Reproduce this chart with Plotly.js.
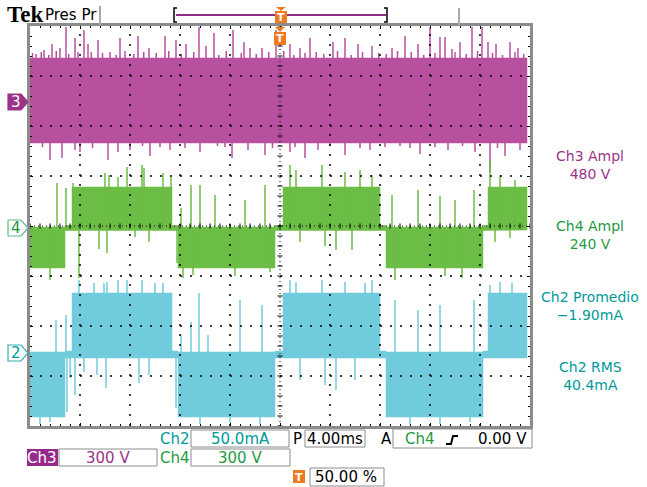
<!DOCTYPE html>
<html><head><meta charset="utf-8">
<script src="https://cdn.plot.ly/plotly-3.0.1.min.js"></script>
<style>html,body{margin:0;padding:0;background:#fff}#chart{width:647px;height:487px}</style>
</head><body><div id="chart"></div>
<script>
// ---------- DATA (time in ms, Ch3/Ch4 in V, Ch2 in mA) ----------
const ch3SegStart = [-20];
const ch3SegEnd   = [19.76];
const ch3SegHi    = [264];
const ch3SegLo    = [-246];
const ch3SpikeT = [-19.52,-18.88,-18.24,-17.6,-17.12,-16.4,-16.16,-15.68,-15.36,-14.56,-13.6,-12.8,-11.36,-10.48,-9.2,-8.32,-7.52,-6.48,-5.92,-5.28,-3.76,-2.88,-2.4,-1.44,-0.32,0.8,1.6,2.4,4.24,5.2,6.24,7.36,8.96,10.0,11.04,12.0,12.8,13.2,13.76,14.4,15.36,16.16,16.64,17.28,18.4,19.04,
  -19.8,-19.1,-18.5,-17.9,-16.9,-15.1,-14.2,-13.1,-12.4,-11.7,-10.9,-9.9,-8.9,-7.9,-6.9,-4.9,-4.3,-3.1,-1.9,-0.9,0.3,1.1,2.0,2.9,3.5,4.6,5.7,6.6,7.9,8.5,9.4,10.5,11.5,12.4,14.0,14.9,15.8,17.0,17.8,18.8,19.5,
  -18.4,-17.44,-16.4,-16.0,-13.76,-12.96,-12.0,-10.4,-8.8,-6.4,-3.84,-2.56,-1.2,0.8,2.0,3.04,5.2,7.2,11.2,13.44,15.6,16.8,18.0,19.2,
  -19.0,-15.0,-11.0,-9.6,-7.6,-5.0,-4.4,-0.6,1.2,4.0,6.4,8.4,9.6,10.4,12.4,14.6,17.4];
const ch3SpikeV = [288,312,348,324,450,384,300,432,348,372,300,384,396,324,396,372,348,450,336,414,432,360,324,324,432,348,324,384,360,384,348,336,324,396,348,450,390,390,318,360,450,450,360,348,360,324,
  294,300,282,306,288,300,294,282,306,288,300,294,306,288,300,282,306,294,288,300,306,282,294,300,288,306,282,300,294,288,306,300,282,294,300,288,306,294,282,300,288,
  -348,-336,-288,-300,-348,-300,-288,-324,-288,-300,-336,-288,-318,-300,-336,-288,-318,-288,-312,-288,-300,-420,-324,-288,
  -270,-276,-264,-270,-276,-264,-270,-276,-270,-264,-276,-270,-264,-276,-270,-264,-276];

const ch4SegStart = [-20,-17.2,-16.64,-8.64,-8.16,-0.4,0.24,8.0,8.48,16.24,16.64];
const ch4SegEnd   = [-17.2,-16.64,-8.64,-8.16,-0.4,0.24,8.0,8.48,16.24,16.64,19.76];
const ch4SegHi    = [6,15,246,15,6,15,246,15,6,15,246];
const ch4SegLo    = [-240,-15,-12,-15,-240,-15,-12,-15,-240,-15,-12];
const ch4SpikeT = [-17.84,-17.12,-16.56,-14.0,-13.68,-12.96,-12.24,-11.04,-10.88,-9.36,-8.72,-7.92,-7.12,-6.4,-5.2,-2.8,-1.2,0.8,1.28,3.36,5.2,6.4,7.36,8.96,11.04,12.8,14.0,15.52,16.8,17.6,18.8,
  -18.4,-16.08,-14.48,-13.84,-11.6,-10.48,-8.24,-7.76,-6.96,-3.6,-0.8,1.6,3.6,4.48,5.76,9.2,13.2,14.56,17.2,18.4];
const ch4SpikeV = [270,240,270,330,318,306,366,378,360,330,306,120,258,258,198,168,258,378,348,378,336,348,318,198,228,192,168,228,408,318,288,
  -312,-300,-126,-150,-54,-84,-210,-300,-282,-288,-264,-84,-108,-132,-132,-312,-288,-300,-84,-60];

const ch2SegStart = [-20,-17.2,-16.64,-8.64,-8.16,-0.4,0.24,8.0,8.48,16.24,16.64];
const ch2SegEnd   = [-17.2,-16.64,-8.64,-8.16,-0.4,0.24,8.0,8.48,16.24,16.64,19.76];
const ch2SegHi    = [1,2,60,2,1,2,60,2,1,2,60];
const ch2SegLo    = [-64,-5,-5,-5,-64,-5,-5,-5,-64,-5,-5];
const ch2SpikeT = [-17.92,-17.12,-16.08,-14.88,-14.08,-13.84,-12.96,-12.24,-11.04,-10.0,-9.36,-7.92,-7.12,-6.48,-5.76,-3.2,-1.44,0.8,1.28,3.36,5.2,6.8,7.36,9.2,11.04,12.8,15.52,16.8,17.6,18.56,
  -17.04,-16.8,-16.4,-15.68,-14.64,-13.92,-11.28,-10.48,-8.32,1.6,3.6,4.48,6.0,-19.2,-18.4,-6.4,-4.0,-1.6,10.4,12.8,15.2];
const ch2SpikeV = [33,38,73,70,70,71,73,73,73,70,70,18,31,60,18,53,48,73,71,73,71,70,73,53,43,48,53,68,71,70,
  -59,-25,-42,-19,-22,-35,-30,-22,-55,-27,-32,-37,-27,-71,-69,-71,-70,-71,-71,-71,-69];

const measLabels = ["Ch3 Ampl","Ch4 Ampl","Ch2 Promedio","Ch2 RMS"];
const measValues = ["480 V","240 V","\u22121.90mA","40.4mA"];
const ch2ScaleText = "50.0mA";
const ch3ScaleText = "300 V";
const ch4ScaleText = "300 V";
const timebaseText = "4.00ms";
const trigLevelText = "0.00 V";
const trigPosText = "50.00 %";

// ---------- STYLE ----------
const C3 = "#b7509f", C4 = "#6cbd45", C2 = "#70cbdc";
const T3 = "#9c338a", T4 = "#1f9a45", T2 = "#009b9b", ORG = "#f07a22", GREY = "#8c8c8c";
const FONT = "DejaVu Sans";

function bandPoly(s, e, hi, lo) {
  const x = [], y = [];
  for (let i = 0; i < s.length; i++) { x.push(s[i], e[i]); y.push(hi[i], hi[i]); }
  for (let i = s.length - 1; i >= 0; i--) { x.push(e[i], s[i]); y.push(lo[i], lo[i]); }
  return {x, y};
}
function spikeLines(ts, vs) {
  const x = [], y = [];
  ts.forEach((t, i) => { x.push(t, t, null); y.push(0, vs[i], null); });
  return {x, y};
}
function band(s,e,hi,lo,axis,color){
  const p = bandPoly(s,e,hi,lo);
  return {type:'scatter', mode:'lines', x:p.x, y:p.y, yaxis:axis, fill:'toself', fillcolor:color,
    line:{color:color, width:0.5}, hoverinfo:'skip', showlegend:false};
}
function spk(ts,vs,axis,color){
  const p = spikeLines(ts,vs);
  return {type:'scatter', mode:'lines', x:p.x, y:p.y, yaxis:axis, line:{color:color, width:1.5},
    hoverinfo:'skip', showlegend:false, connectgaps:false};
}

const traces = [
  band(ch3SegStart,ch3SegEnd,ch3SegHi,ch3SegLo,'y2',C3), spk(ch3SpikeT,ch3SpikeV,'y2',C3),
  band(ch4SegStart,ch4SegEnd,ch4SegHi,ch4SegLo,'y3',C4), spk(ch4SpikeT,ch4SpikeV,'y3',C4),
  band(ch2SegStart,ch2SegEnd,ch2SegHi,ch2SegLo,'y4',C2), spk(ch2SpikeT,ch2SpikeV,'y4',C2)
];

// pixel -> paper helpers (plot area 30..530 x 26..426)
const P = x => (x - 30) / 500;
const Q = y => (426 - y) / 400;

const shapes = [];
for (let i = -16; i <= 16; i += 4) {
  if (i === 0) continue;
  shapes.push({type:'line', xref:'x', yref:'y', x0:i, x1:i, y0:-4, y1:4, layer:'above', line:{color:'#000', width:1.5, dash:'2px,8px'}});
}
for (let j = -3; j <= 3; j++) {
  if (j === 0) continue;
  shapes.push({type:'line', xref:'x', yref:'y', x0:-20, x1:20, y0:j, y1:j, layer:'above', line:{color:'#000', width:1.5, dash:'2px,8px'}});
}
shapes.push({type:'line', xref:'x', yref:'y', x0:-20, x1:20, y0:0, y1:0, layer:'above', line:{color:'#000', width:1, dash:'1px,3px'}});
shapes.push({type:'line', xref:'x', yref:'y', x0:0, x1:0, y0:-4, y1:4, layer:'above', line:{color:'#000', width:1, dash:'1px,3px'}});
for (let k = -25; k <= 25; k++) {
  const t = k * 0.8;
  shapes.push({type:'line', xref:'x', yref:'y', x0:t, x1:t, y0:-0.05, y1:0.05, layer:'above', line:{color:'#000', width:1}});
}
for (let k = -20; k <= 20; k++) {
  const v = k * 0.2;
  shapes.push({type:'line', xref:'x', yref:'y', x0:-0.2, x1:0.2, y0:v, y1:v, layer:'above', line:{color:'#000', width:1}});
}
shapes.push({type:'line', xref:'paper', yref:'paper', x0:P(100), x1:P(100), y0:Q(6), y1:Q(25), line:{color:'#aaa', width:2}});
shapes.push({type:'line', xref:'paper', yref:'paper', x0:P(459), x1:P(459), y0:Q(8), y1:Q(25), line:{color:'#aaa', width:2}});
shapes.push({type:'line', xref:'paper', yref:'paper', x0:P(176), x1:P(386), y0:Q(15), y1:Q(15), line:{color:'#8a2f80', width:2}});
shapes.push({type:'path', xref:'paper', yref:'paper', path:`M${P(177)},${Q(8)} L${P(174)},${Q(8)} L${P(174)},${Q(22)} L${P(177)},${Q(22)}`, line:{color:'#000', width:1.5}});
shapes.push({type:'path', xref:'paper', yref:'paper', path:`M${P(384)},${Q(8)} L${P(387)},${Q(8)} L${P(387)},${Q(22)} L${P(384)},${Q(22)}`, line:{color:'#000', width:1.5}});
function tMarker(cx, yTri, yBox0, yBox1) {
  shapes.push({type:'path', xref:'paper', yref:'paper', path:`M${P(cx-5)},${Q(yTri)} L${P(cx+5)},${Q(yTri)} L${P(cx)},${Q(yBox0)} Z`, fillcolor:ORG, line:{width:0}});
  shapes.push({type:'rect', xref:'paper', yref:'paper', x0:P(cx-6), x1:P(cx+6), y0:Q(yBox0), y1:Q(yBox1), fillcolor:ORG, line:{width:0}});
}
tMarker(281, 7, 11, 23);
tMarker(280, 27, 32, 45);
function gMarker(yc, fill, stroke) {
  shapes.push({type:'path', xref:'paper', yref:'paper',
    path:`M${P(8)},${Q(yc-8)} L${P(21)},${Q(yc-8)} L${P(28)},${Q(yc)} L${P(21)},${Q(yc+8)} L${P(8)},${Q(yc+8)} Z`,
    fillcolor:fill, line:{color:stroke, width:1.2}});
}
gMarker(102, T3, T3);
gMarker(228, '#fff', '#5fb98c');
gMarker(353, '#fff', '#3bb0b0');
function box(x0,y0,x1,y1){ shapes.push({type:'rect', xref:'paper', yref:'paper', x0:P(x0), x1:P(x1), y0:Q(y0), y1:Q(y1), line:{color:GREY, width:1}}); }
box(191,430,289,447);
box(305,430,365,447);
box(393,429,532,448);
box(59,449,157,466);
box(191,449,290,466);
box(310,468,384,486);
shapes.push({type:'rect', xref:'paper', yref:'paper', x0:P(27), x1:P(58), y0:Q(449), y1:Q(466), fillcolor:'#962a8c', line:{width:0}});
shapes.push({type:'rect', xref:'paper', yref:'paper', x0:P(293), x1:P(305), y0:Q(470), y1:Q(483), fillcolor:ORG, line:{width:0}});
shapes.push({type:'path', xref:'paper', yref:'paper', path:`M${P(446)},${Q(444)} L${P(451)},${Q(444)} L${P(453)},${Q(436)} L${P(458)},${Q(436)}`, line:{color:'#000', width:2}});

const ann = [];
function txt(text, x, y, color, size, opts) {
  ann.push(Object.assign({text:text, xref:'paper', yref:'paper', x:P(x), y:Q(y), xanchor:'center', yanchor:'middle',
    showarrow:false, font:{family:FONT, size:size, color:color}}, opts || {}));
}
txt('<b>Tek</b>', 25, 15, '#000', 23, {font:{family:'Liberation Serif', size:23, color:'#000'}});
txt('Pres Pr', 71, 15, '#000', 15);
txt('<b>T</b>', 281, 17, '#fff', 11);
txt('<b>T</b>', 280, 39, '#fff', 11);
txt('3', 16, 102, '#fff', 15);
txt('4', 16, 228, T4, 15);
txt('2', 16, 353, T2, 15);
const measCol = [T3, T4, T2, T2];
const measY = [165, 235, 306, 376];
measLabels.forEach((m, i) => {
  txt(m + '<br>' + measValues[i], 590, measY[i], measCol[i], 14);
});
txt('Ch2', 175, 439, T2, 15);
txt(ch2ScaleText, 240, 439, T2, 15);
txt('P', 297, 439, '#000', 15);
txt(timebaseText, 335, 439, '#000', 15);
txt('A', 386, 439, '#000', 15);
txt('Ch4', 420, 439, T4, 15);
txt(trigLevelText, 529, 439, '#000', 15, {xanchor:'right'});
txt('Ch3', 42, 458, '#fff', 15);
txt(ch3ScaleText, 108, 458, T3, 15);
txt('Ch4', 175, 458, T4, 15);
txt(ch4ScaleText, 240, 458, T4, 15);
txt('<b>T</b>', 299, 477, '#fff', 11);
txt(trigPosText, 313, 477, '#000', 15, {xanchor:'left'});

const layout = {
  width:647, height:487,
  margin:{l:30, r:117, t:26, b:61, pad:0},
  paper_bgcolor:'#fff', plot_bgcolor:'#fff',
  showlegend:false,
  xaxis:{range:[-20,20], showgrid:false, zeroline:false, showline:true, linecolor:GREY, linewidth:3, mirror:'ticks',
    ticks:'inside', ticklen:3, tickcolor:'#000', tickwidth:1, tick0:-20, dtick:4, showticklabels:false, layer:'above traces',
    minor:{dtick:0.8, ticks:'inside', ticklen:2, tickcolor:'#000', showgrid:false}, fixedrange:true},
  yaxis:{range:[-4,4], showgrid:false, zeroline:false, showline:true, linecolor:GREY, linewidth:3, mirror:'ticks',
    ticks:'inside', ticklen:3, tickcolor:'#000', tickwidth:1, tick0:-4, dtick:1, showticklabels:false, layer:'above traces',
    minor:{dtick:0.2, ticks:'inside', ticklen:2, tickcolor:'#000', showgrid:false}, fixedrange:true},
  yaxis2:{overlaying:'y', anchor:'x', range:[-1944,456], visible:false, fixedrange:true},
  yaxis3:{overlaying:'y', anchor:'x', range:[-1188,1212], visible:false, fixedrange:true},
  yaxis4:{overlaying:'y', anchor:'x', range:[-73,327], visible:false, fixedrange:true},
  shapes:shapes,
  annotations:ann
};
traces.unshift({type:'scatter', mode:'lines', x:[-20,20], y:[null,null], yaxis:'y', hoverinfo:'skip', showlegend:false});
Plotly.newPlot('chart', traces, layout, {staticPlot:true, displayModeBar:false});
</script></body></html>
